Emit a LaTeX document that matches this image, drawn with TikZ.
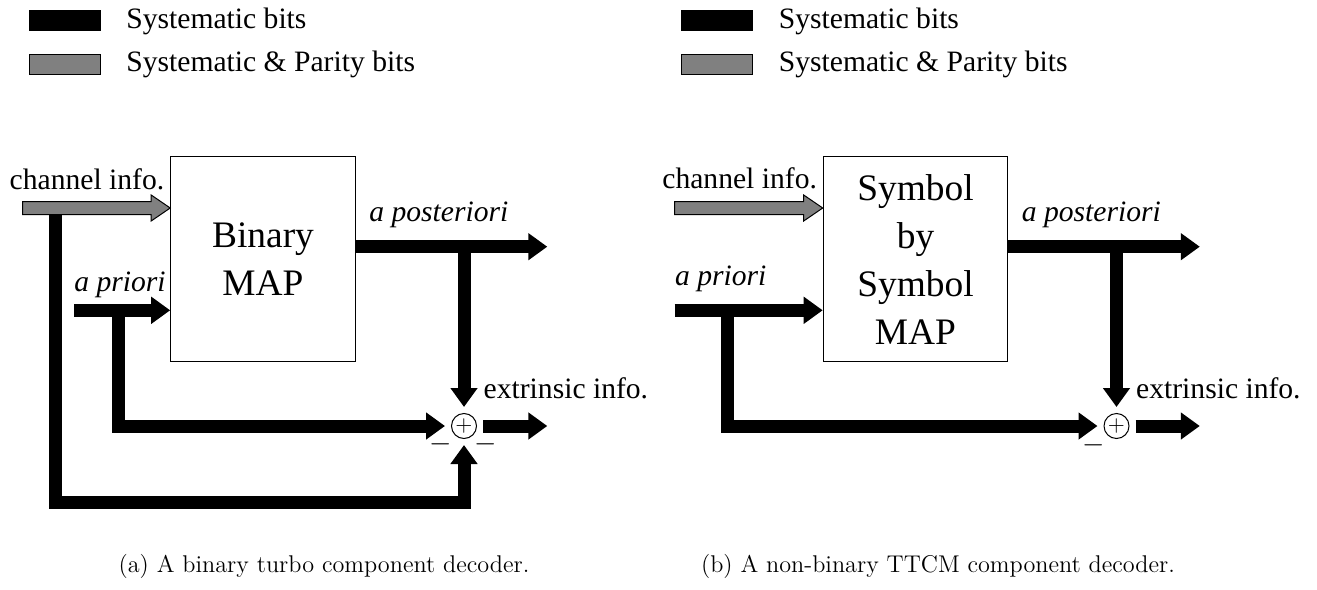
\documentclass[tikz,border=0pt]{standalone}
\usepackage{fontspec}
\usetikzlibrary{arrows.meta,calc}
\newfontfamily\tms{Liberation Serif}
\definecolor{paritygray}{gray}{0.5}
\tikzset{
  sysline/.style={line width=6.5pt},
  sysarrow/.style={sysline,-{Triangle[width=13pt,length=9.5pt]}},
  mapbox/.style={draw,line width=0.5pt,minimum width=92.3pt,minimum height=102.5pt,inner sep=0,align=center,font=\tms\fontsize{18.7}{24}\selectfont},
  lbl/.style={inner sep=0,anchor=base west,font=\tms\fontsize{14.8}{17}\selectfont},
  sumnode/.style={circle,draw,line width=0.5pt,minimum size=12.5pt,inner sep=0,font=\fontsize{10.5}{12}\selectfont},
  sign/.style={inner sep=0,font=\fontsize{14.5}{16}\selectfont},
  swatch/.style={draw,line width=0.5pt,minimum width=35.5pt,minimum height=10pt,inner sep=0},
  caption/.style={inner sep=0,anchor=base,font=\fontsize{12.1}{14}\selectfont}
}
\newcommand\parityarrow[2]{\filldraw[fill=paritygray,draw=black,line width=0.5pt] ($(#1)+(0,-6.5)$) -- ($(#2)+(-19,-6.5)$) -- ($(#2)+(-19,-13)$) -- (#2) -- ($(#2)+(-19,13)$) -- ($(#2)+(-19,6.5)$) -- ($(#1)+(0,6.5)$) -- cycle;}
\begin{document}
\begin{tikzpicture}[x=0.5pt,y=-0.5pt]
\useasboundingbox (0,0) rectangle (1317,589);
\foreach \dx/\s in {0/A,652.5/B} {
  \node[swatch,fill=black] (sys\s) at (64.6+\dx,20) {};
  \node[swatch,fill=paritygray] (par\s) at (64.6+\dx,64.5) {};
  \node[lbl] (systxt\s) at (126+\dx,28.3) {Systematic bits};
  \node[lbl] (partxt\s) at (126+\dx,71.7) {Systematic \& Parity bits};
}
\node[mapbox] (mapA) at (263,259.2) {Binary\\MAP};
\node[sumnode] (sumA) at (464,426) {$+$};
\coordinate (chA) at (22.7,208);
\coordinate (loopA) at (55.8,208);
\coordinate (botA) at (464,502);
\coordinate (apA) at (74,310.3);
\coordinate (fbA) at (118.7,310.3);
\coordinate (postA) at (547.3,246.7);
\coordinate (outA) at (547.3,426);
\draw[sysarrow,shorten >=3pt] (loopA) |- (botA) -- (sumA.south);
\parityarrow{chA}{chA -| mapA.west}
\draw[sysarrow] (apA) -- (apA -| mapA.west);
\draw[sysarrow,shorten >=3pt] (fbA) |- (sumA.west);
\draw[sysarrow] (mapA.east |- postA) -- (postA);
\draw[sysarrow,shorten >=3pt] (postA -| sumA) -- (sumA.north);
\draw[sysarrow,shorten <=3pt] (sumA.east) -- (outA);
\node[sign] (minA1) at (441,444.5) {$-$};
\node[sign] (minA2) at (486,444.5) {$-$};
\node[lbl] (chtxtA) at (9.3,189) {channel info.};
\node[lbl] (aprA) at (74,291.7) {\textit{a priori}};
\node[lbl] (apoA) at (369,221.5) {\textit{a posteriori}};
\node[lbl] (extA) at (483.3,398.3) {extrinsic info.};
\node[caption] (capA) at (324,572.7) {(a) A binary turbo component decoder.};
\begin{scope}[xshift=326.25pt]
\node[mapbox] (mapB) at (263,259.2) {Symbol\\by\\Symbol\\MAP};
\node[sumnode] (sumB) at (464,426) {$+$};
\coordinate (chB) at (22.2,208);
\coordinate (apB) at (22.2,310.3);
\coordinate (fbB) at (75.2,310.3);
\coordinate (postB) at (547.3,246.7);
\coordinate (outB) at (547.3,426);
\parityarrow{chB}{chB -| mapB.west}
\draw[sysarrow] (apB) -- (apB -| mapB.west);
\draw[sysarrow,shorten >=3pt] (fbB) |- (sumB.west);
\draw[sysarrow] (mapB.east |- postB) -- (postB);
\draw[sysarrow,shorten >=3pt] (postB -| sumB) -- (sumB.north);
\draw[sysarrow,shorten <=3pt] (sumB.east) -- (outB);
\node[sign] (minB1) at (441.5,445) {$-$};
\node[lbl] (chtxtB) at (9.5,188.5) {channel info.};
\node[lbl] (aprB) at (22.2,285) {\textit{a priori}};
\node[lbl] (apoB) at (369,221.5) {\textit{a posteriori}};
\node[lbl] (extB) at (483.3,398.3) {extrinsic info.};
\node[caption] (capB) at (285.5,572.7) {(b) A non-binary TTCM component decoder.};
\end{scope}
\end{tikzpicture}
\end{document}
